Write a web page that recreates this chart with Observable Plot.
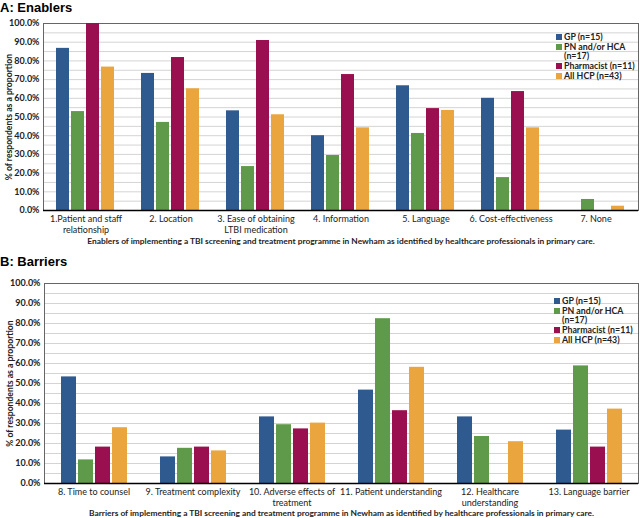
<!DOCTYPE html>
<html><head><meta charset="utf-8">
<script src="https://cdn.jsdelivr.net/npm/d3@7"></script>
<script src="https://cdn.jsdelivr.net/npm/@observablehq/plot@0.6"></script>
<style>
body{margin:0;background:#fff;width:640px;font-family:Lato,sans-serif;}
.panel{position:relative;width:640px;}
.title{font:bold 13px "Liberation Sans",Arial,sans-serif;line-height:16px;box-sizing:border-box;}
.legend{position:absolute;font:bold 8.8px Lato,sans-serif;line-height:9.7px;width:84px;color:#222;}
.legend .item{display:flex;align-items:flex-start;}
.legend .sw{width:6px;height:6px;margin:1.8px 2px 0 0;flex:none;}
</style>
</head><body>
<div id="chart"></div>
<script>
const series = ["GP (n=15)", "PN and/or HCA (n=17)", "Pharmacist (n=11)", "All HCP (n=43)"];
const colors = ["#2e5a8f", "#5f9a4a", "#990f4f", "#eba53e"];

const categoriesA = ["1.Patient and staff\nrelationship", "2. Location", "3. Ease of obtaining\nLTBI medication", "4. Information", "5. Language", "6. Cost-effectiveness", "7. None"];
const gpA =   [86.7, 73.3, 53.3, 40.0, 66.7, 60.0, 0.0];
const pnA =   [52.9, 47.1, 23.5, 29.4, 41.2, 17.6, 5.9];
const phA =   [100.0, 81.8, 90.9, 72.7, 54.5, 63.6, 0.0];
const allA =  [76.7, 65.1, 51.2, 44.2, 53.5, 44.2, 2.3];

const categoriesB = ["8. Time to counsel", "9. Treatment complexity", "10. Adverse effects of\ntreatment", "11. Patient understanding", "12. Healthcare\nunderstanding", "13. Language barrier"];
const gpB =   [53.3, 13.3, 33.3, 46.7, 33.3, 26.7];
const pnB =   [11.8, 17.6, 29.4, 82.4, 23.5, 58.8];
const phB =   [18.2, 18.2, 27.3, 36.4, 0.0, 18.2];
const allB =  [27.9, 16.3, 30.2, 58.1, 20.9, 37.2];

const yTicks = [0, 10, 20, 30, 40, 50, 60, 70, 80, 90, 100];
const gridTicks = [5, 10, 15, 20, 25, 30, 35, 40, 45, 50, 55, 60, 65, 70, 75, 80, 85, 90, 95];
const yLabel = "% of respondents as a proportion";
const xTitleA = "Enablers of implementing a TBI screening and treatment programme in Newham as identified by healthcare professionals in primary care.";
const xTitleB = "Barriers of implementing a TBI screening and treatment programme in Newham as identified by healthcare professionals in primary care.";

function toRows(cats, arrs) {
  const rows = [];
  cats.forEach((c, i) => arrs.forEach((a, j) => rows.push({cat: c, series: series[j], value: a[i]})));
  return rows;
}

function legend(top, left) {
  const el = document.createElement("div");
  el.className = "legend";
  el.style.top = top + "px";
  el.style.left = left + "px";
  series.forEach((s, i) => {
    const it = document.createElement("div");
    it.className = "item";
    it.innerHTML = `<span class="sw" style="background:${colors[i]}"></span><span>${s}</span>`;
    el.appendChild(it);
  });
  return el;
}

function panel(title, cats, arrs, opts) {
  const wrap = document.createElement("div");
  wrap.className = "panel";
  const t = document.createElement("div");
  t.className = "title";
  t.textContent = title;
  t.style.height = opts.titleH + "px";
  t.style.paddingTop = opts.titlePad + "px";
  wrap.appendChild(t);
  const chart = Plot.plot({
    width: 640,
    height: opts.height,
    marginTop: opts.marginTop,
    marginLeft: 42,
    marginRight: 1,
    marginBottom: opts.marginBottom,
    style: {fontFamily: "Lato, sans-serif", fontSize: "9px", color: "#222", background: "#fff"},
    fx: {domain: cats, padding: 0},
    x: {domain: series, axis: null, paddingInner: 0.12, paddingOuter: opts.po},
    y: {domain: [0, 100]},
    color: {domain: series, range: colors},
    marks: [
      Plot.gridY(gridTicks, {stroke: "#d4d4d4", strokeOpacity: 1}),
      Plot.frame({facet: "super", stroke: "#666"}),
      Plot.barY(toRows(cats, arrs), {fx: "cat", x: "series", y: "value", fill: "series"}),
      Plot.ruleY([0], {stroke: "#000", strokeWidth: 1.5}),
      Plot.axisY(yTicks, {anchor: "left", tickFormat: d => d.toFixed(1) + "%", tickSize: 0, tickPadding: 4, fontWeight: "bold",
        label: yLabel, labelAnchor: "center", labelArrow: "none", labelOffset: 38}),
      Plot.axisFx({anchor: "bottom", tickSize: 0, tickPadding: 4, lineHeight: 1.2, label: opts.xTitle, labelAnchor: "center", labelOffset: opts.labelOffset})
    ]
  });
  d3.select(chart).selectAll("text").filter(function() { return this.textContent === yLabel; })
    .style("font-weight", "bold").style("font-size", "8.6px");
  d3.select(chart).selectAll("text").filter(function() { return this.textContent === opts.xTitle; })
    .style("font-weight", "bold").style("font-size", "8.4px");
  wrap.appendChild(chart);
  wrap.appendChild(legend(opts.legTop, opts.legLeft));
  return wrap;
}

const root = document.getElementById("chart");
root.appendChild(panel("A: Enablers", categoriesA, [gpA, pnA, phA, allA],
  {titleH: 17, titlePad: 0, height: 233, marginTop: 6, marginBottom: 40, xTitle: xTitleA, labelOffset: 33, po: 0.73, legTop: 32, legLeft: 556}));
root.appendChild(panel("B: Barriers", categoriesB, [gpB, pnB, phB, allB],
  {titleH: 25, titlePad: 4, height: 243, marginTop: 8, marginBottom: 35, xTitle: xTitleB, labelOffset: 32, po: 0.92, legTop: 46, legLeft: 554}));
</script>
</body></html>
